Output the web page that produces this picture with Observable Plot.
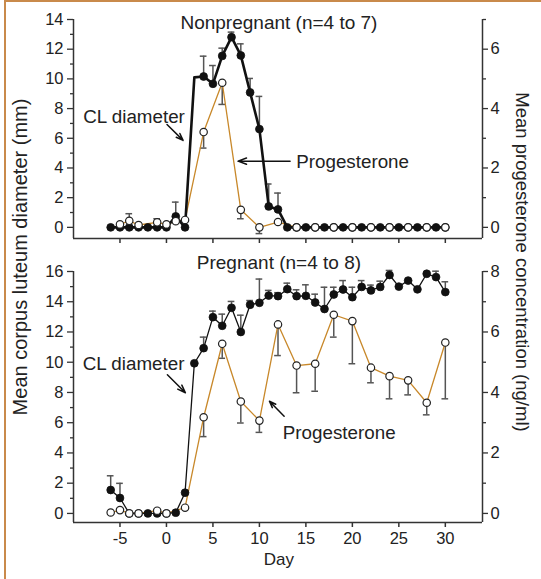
<!DOCTYPE html>
<html>
<head>
<meta charset="utf-8">
<script src="https://cdn.jsdelivr.net/npm/d3@7"></script>
<script src="https://cdn.jsdelivr.net/npm/@observablehq/plot@0.6"></script>
<style>
  body { margin: 0; background: #fff; font-family: "Liberation Sans", Arial, sans-serif; }
  #wrap { position: relative; width: 541px; height: 579px; overflow: hidden; background: #fff; }
  #frame { position: absolute; left: 4px; top: 0; width: 537px; height: 579px; box-sizing: border-box;
           border-top: 2px solid #c98a4b; border-left: 2px solid #c98a4b; }
  #p1 { position: absolute; left: 0; top: 0; }
  #p2 { position: absolute; left: 0; top: 250px; }
  .ylab { position: absolute; color: #222; white-space: nowrap; }
</style>
</head>
<body>
<div id="wrap">
  <div id="frame"></div>
  <div id="p1"></div>
  <div id="p2"></div>
  <div class="ylab" id="ylabL" style="font-size:20px;left:20px;top:257px;transform:translate(-50%,-50%) rotate(-90deg);">Mean corpus luteum diameter (mm)</div>
  <div class="ylab" id="ylabR" style="font-size:18.5px;left:522px;top:262px;transform:translate(-50%,-50%) rotate(90deg);">Mean progesterone concentration (ng/ml)</div>
</div>
<script>
// ---------------- data ----------------
const days = [-6,-5,-4,-3,-2,-1,0,1,2,3,4,5,6,7,8,9,10,11,12,13,14,15,16,17,18,19,20,21,22,23,24,25,26,27,28,29,30];

// Nonpregnant
const npCL = [0,0,0,0,0,0,0,0.74,0,10.1,10.16,9.67,11.55,12.81,11.58,9.09,6.62,1.41,1.21,0,0,0,0,0,0,0,0,0,0,0,0,0,0,0,0,0,0];
const npCLUnmarked = [3];
const npCLErrDays = [1,4,5,6,7,8,9,10,11,12];
const npCLErrEnd  = [1.7,11.53,10.9,12.07,13.15,12.36,10.03,8.82,2.92,2.31];
const npPgDays = [-5,-4,-3,-1,0,1,2,4,6,8,10,12,14,16,18,20,22,24,26,28,30];
const npPg     = [0.1,0.22,0.08,0.17,0.1,0.21,0.25,3.21,4.87,0.59,0,0.18,0,0,0,0,0,0,0,0,0];
const npPgErrDays = [-4,-1,4,6,8,10];
const npPgErrEnd  = [0.46,0.29,2.67,4.14,0.29,-0.21];

// Pregnant
const pCL = [1.55,1.02,0,0,0,0,0,0.05,1.37,9.93,10.93,12.98,12.41,13.6,12.0,13.8,13.93,14.41,14.37,14.83,14.37,14.39,13.95,13.52,14.48,14.81,14.3,14.98,14.75,14.98,15.77,15.0,15.4,14.82,15.85,15.63,14.64];
const pCLUnmarked = [];
const pCLErrDays = [-6,-5,4,5,6,7,8,9,10,11,12,13,14,15,16,17,18,19,20,21,22,23,24,29,30];
const pCLErrEnd  = [2.49,1.99,11.66,13.38,13.18,14.02,13.11,14.08,15.5,14.75,14.6,15.23,14.79,15.12,14.5,14.96,14.96,15.4,14.96,15.4,15.1,15.36,16.07,16.02,15.32];
const pPgDays = [-6,-5,-4,-3,-1,0,2,4,6,8,10,12,14,16,18,20,22,24,26,28,30];
const pPg     = [0.03,0.11,0,0,0.09,0,0.19,3.18,5.61,3.7,3.07,6.25,4.89,4.95,6.57,6.36,4.82,4.54,4.4,3.66,5.65];
const pPgErrDays = [4,6,8,10,12,14,16,18,20,22,24,26,28,30];
const pPgErrEnd  = [2.54,5.13,2.99,2.68,5.22,3.99,4.04,5.83,4.95,4.32,3.79,3.92,3.26,3.79];

// ticks
const xTicks = [-5,0,5,10,15,20,25,30];
const npLeftMajor = [0,2,4,6,8,10,12,14];
const npLeftMinor = [1,3,5,7,9,11,13];
const npRightMajor = [0,2,4,6];
const npRightMinor = [1,3,5,7];
const pLeftMajor = [0,2,4,6,8,10,12,14,16];
const pLeftMinor = [1,3,5,7,9,11,13,15];
const pRightMajor = [0,2,4,6,8];
const pRightMinor = [1,3,5,7];

// titles and annotations (data coordinates)
const npTitle = "Nonpregnant (n=4 to 7)";
const pTitle = "Pregnant (n=4 to 8)";
const npNotes = [{text: "CL diameter", x: -8.95, y: 7.45}, {text: "Progesterone", x: 13.96, y: 4.41}];
const npArrows = [{x1: 0.06, y1: 6.93, x2: 1.79, y2: 5.86}, {x1: 13.3, y1: 4.46, x2: 7.7, y2: 4.46}];
const pNotes = [{text: "CL diameter", x: -9.0, y: 9.9}, {text: "Progesterone", x: 12.52, y: 5.29}];
const pArrows = [{x1: 0.1, y1: 9.17, x2: 2.04, y2: 7.98}, {x1: 12.66, y1: 6.43, x2: 11.08, y2: 7.42}];

// ---------------- drawing ----------------
const K = 2; // left-axis units (mm) per right-axis unit (ng/ml)
const ORANGE = "#c8882a";
const AXIS = "#333";
const ERR = "#555";
const FONT = "'Liberation Sans', Arial, sans-serif";

function panel(o) {
  const cl = days.map((d, i) => ({day: d, v: o.cl[i]}));
  const clDots = cl.filter(r => !o.unmarked.includes(r.day));
  const clErr = o.clErrDays.map((d, i) => ({day: d, v: o.cl[days.indexOf(d)], e: o.clErrEnd[i]}));
  const pg = o.pgDays.map((d, i) => ({day: d, v: o.pg[i]}));
  const pgErr = o.pgErrDays.map((d, i) => ({day: d, v: o.pg[o.pgDays.indexOf(d)], e: o.pgErrEnd[i]}));
  const cap = 0.36;
  const marks = [
    Plot.ruleY([o.yMin], {stroke: AXIS, strokeWidth: 1.5}),
    Plot.ruleX([-10, 34], {stroke: AXIS, strokeWidth: 1.5}),
    Plot.axisX(xTicks, {tickSize: 5, tickPadding: 5, stroke: AXIS, strokeWidth: 1.5,
      tickFormat: o.showX ? (d => String(d)) : (() => ""), label: null, fontSize: 16.5}),
    Plot.axisY(o.leftMajor, {anchor: "left", tickSize: 6, tickPadding: 4, stroke: AXIS, strokeWidth: 1.3,
      tickFormat: d => String(d), label: null, fontSize: 16.5}),
    Plot.axisY(o.leftMinor, {anchor: "left", tickSize: 3, stroke: AXIS, strokeWidth: 1.3, tickFormat: () => "", label: null}),
    Plot.axisY(o.rightMajor.map(v => v * K), {anchor: "right", tickSize: 5, tickPadding: 3, stroke: AXIS, strokeWidth: 1.3,
      tickFormat: d => String(d / K), label: null, fontSize: 16.5}),
    Plot.axisY(o.rightMinor.map(v => v * K), {anchor: "right", tickSize: 3, stroke: AXIS, strokeWidth: 1.3, tickFormat: () => "", label: null}),
    // error bars
    Plot.ruleX(clErr, {x: "day", y1: "v", y2: "e", stroke: ERR, strokeWidth: 1.5}),
    Plot.ruleY(clErr, {y: "e", x1: d => d.day - cap, x2: d => d.day + cap, stroke: ERR, strokeWidth: 1.5}),
    Plot.ruleX(pgErr, {x: "day", y1: d => d.v * K, y2: d => d.e * K, stroke: ERR, strokeWidth: 1.5}),
    Plot.ruleY(pgErr, {y: d => d.e * K, x1: d => d.day - cap, x2: d => d.day + cap, stroke: ERR, strokeWidth: 1.5}),
    // lines
    Plot.line(pg, {x: "day", y: d => d.v * K, stroke: ORANGE, strokeWidth: 1.3}),
    Plot.line(cl, {x: "day", y: "v", stroke: "#111", strokeWidth: o.clWidth, strokeLinejoin: "round"}),
    // dots
    Plot.dot(clDots, {x: "day", y: "v", r: 3.9, fill: "#111", stroke: "#111", strokeWidth: 0.8}),
    Plot.dot(pg, {x: "day", y: d => d.v * K, r: 3.7, fill: "#fff", stroke: "#222", strokeWidth: 1.2}),
    // annotations
    Plot.arrow(o.arrows, {x1: "x1", y1: "y1", x2: "x2", y2: "y2", stroke: "#111", strokeWidth: 1.5, headLength: 9, headAngle: 40}),
    Plot.text(o.notes, {x: "x", y: "y", text: "text", textAnchor: "start", fontSize: 18.8, fill: "#222"}),
    Plot.text([o.title], {x: 12.1, y: o.titleY, text: d => d, fontSize: 19, fill: "#222"})
  ];
  if (o.showX) marks.push(Plot.text(["Day"], {x: 12.1, frameAnchor: "bottom", dy: 42, text: d => d, fontSize: 17, fill: "#222"}));
  return Plot.plot({
    width: 541, height: o.height,
    marginLeft: 73, marginRight: 59, marginTop: o.mt, marginBottom: o.mb,
    x: {domain: [-10, 34]},
    y: {domain: [o.yMin, o.yMax]},
    style: {fontFamily: FONT, fontSize: "16.5px", color: "#222", background: "transparent", overflow: "visible"},
    marks
  });
}

document.getElementById("p1").appendChild(panel({
  cl: npCL, unmarked: npCLUnmarked, clErrDays: npCLErrDays, clErrEnd: npCLErrEnd,
  pgDays: npPgDays, pg: npPg, pgErrDays: npPgErrDays, pgErrEnd: npPgErrEnd,
  leftMajor: npLeftMajor, leftMinor: npLeftMinor, rightMajor: npRightMajor, rightMinor: npRightMinor,
  yMin: -0.75, yMax: 14, height: 250, mt: 19, mb: 12, clWidth: 2.6,
  title: npTitle, titleY: 13.75, notes: npNotes, arrows: npArrows, showX: false
}));
document.getElementById("p2").appendChild(panel({
  cl: pCL, unmarked: pCLUnmarked, clErrDays: pCLErrDays, clErrEnd: pCLErrEnd,
  pgDays: pPgDays, pg: pPg, pgErrDays: pPgErrDays, pgErrEnd: pPgErrEnd,
  leftMajor: pLeftMajor, leftMinor: pLeftMinor, rightMajor: pRightMajor, rightMinor: pRightMinor,
  yMin: -0.6, yMax: 16, height: 329, mt: 21, mb: 57, clWidth: 1.3,
  title: pTitle, titleY: 16.55, notes: pNotes, arrows: pArrows, showX: true
}));
</script>
</body>
</html>
